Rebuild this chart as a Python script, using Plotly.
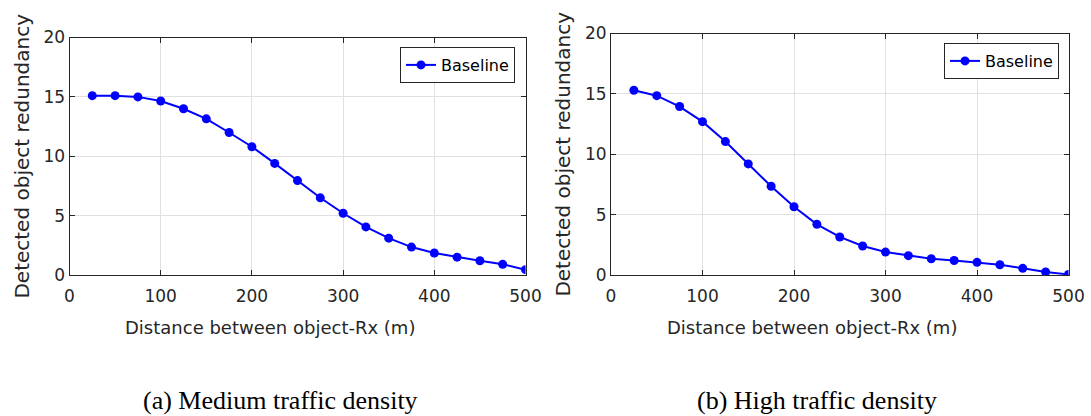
import plotly.graph_objects as go

distance = [25, 50, 75, 100, 125, 150, 175, 200, 225, 250, 275, 300, 325, 350, 375, 400, 425, 450, 475, 500]
medium_baseline = [15.1, 15.1, 15.0, 14.65, 14.0, 13.15, 12.0, 10.8, 9.4, 7.95, 6.5, 5.2, 4.05, 3.1, 2.35, 1.85, 1.5, 1.2, 0.9, 0.45]
high_baseline = [15.3, 14.85, 13.95, 12.7, 11.05, 9.2, 7.35, 5.65, 4.2, 3.15, 2.4, 1.9, 1.6, 1.35, 1.2, 1.05, 0.85, 0.55, 0.25, 0.05]
x_ticks = [0, 100, 200, 300, 400, 500]
y_ticks = [0, 5, 10, 15, 20]
series_name = "Baseline"
x_title = "Distance between object-Rx (m)"
y_title = "Detected object redundancy"
captions = ["(a) Medium traffic density", "(b) High traffic density"]

W, H = 1091, 416
blue = "#0000FF"
tick_col = "#262626"
sans = "DejaVu Sans, Liberation Sans, Arial"

fig = go.Figure()
fig.add_trace(go.Scatter(x=distance, y=medium_baseline, mode="lines+markers", name=series_name,
                         line=dict(color=blue, width=2), marker=dict(color=blue, size=9),
                         xaxis="x", yaxis="y", legend="legend", showlegend=True))
fig.add_trace(go.Scatter(x=distance, y=high_baseline, mode="lines+markers", name=series_name,
                         line=dict(color=blue, width=2), marker=dict(color=blue, size=9),
                         xaxis="x2", yaxis="y2", legend="legend2", showlegend=True))

def px(x):
    return x / W

def py(y):
    return (H - y) / H

axis_common = dict(showline=True, linecolor="#262626", linewidth=1, mirror="allticks",
                   ticks="inside", ticklen=5, tickcolor="#262626",
                   showgrid=True, gridcolor="#E0E0E0", gridwidth=1, zeroline=False,
                   automargin=False,
                   tickfont=dict(family=sans, size=17, color=tick_col))

ytitle_font = dict(family=sans, size=20, color=tick_col)
xtitle_font = dict(family=sans, size=18, color=tick_col)
legend_common = dict(xanchor="right", yanchor="top", bordercolor="#262626", borderwidth=1,
                     bgcolor="white", font=dict(family=sans, size=16, color="black"),
                     tracegroupgap=0)
cap_font = dict(family="Liberation Serif, Times New Roman", size=26, color="black")

fig.update_layout(
    width=W, height=H,
    autosize=False,
    showlegend=True,
    margin=dict(l=0, r=0, t=0, b=0, pad=0),
    paper_bgcolor="white", plot_bgcolor="white",
    xaxis=dict(domain=[px(69.5), px(525.5)], range=[0, 500], tickvals=x_ticks, anchor="y",
               ticklabelstandoff=6, **axis_common),
    yaxis=dict(domain=[py(275), py(37.5)], range=[0, 20], tickvals=y_ticks, anchor="x",
               title=dict(text=y_title, font=ytitle_font, standoff=8), **axis_common),
    xaxis2=dict(domain=[px(611), px(1068.5)], range=[0, 500], tickvals=x_ticks, anchor="y2",
                ticklabelstandoff=6, **axis_common),
    yaxis2=dict(domain=[py(275), py(33.5)], range=[0, 20], tickvals=y_ticks, anchor="x2",
                title=dict(text=y_title, font=ytitle_font, standoff=8), **axis_common),
    legend=dict(x=px(515), y=py(47), **legend_common),
    legend2=dict(x=px(1059), y=py(43), **legend_common),
    annotations=[
        dict(text=x_title, x=px(270), y=py(327), xref="paper", yref="paper",
             xanchor="center", yanchor="middle", showarrow=False, font=xtitle_font),
        dict(text=x_title, x=px(812), y=py(327), xref="paper", yref="paper",
             xanchor="center", yanchor="middle", showarrow=False, font=xtitle_font),
        dict(text=captions[0], x=px(280), y=py(400), xref="paper", yref="paper",
             xanchor="center", yanchor="middle", showarrow=False, font=cap_font),
        dict(text=captions[1], x=px(817), y=py(400), xref="paper", yref="paper",
             xanchor="center", yanchor="middle", showarrow=False, font=cap_font),
    ],
)

fig.write_html("out.html")
